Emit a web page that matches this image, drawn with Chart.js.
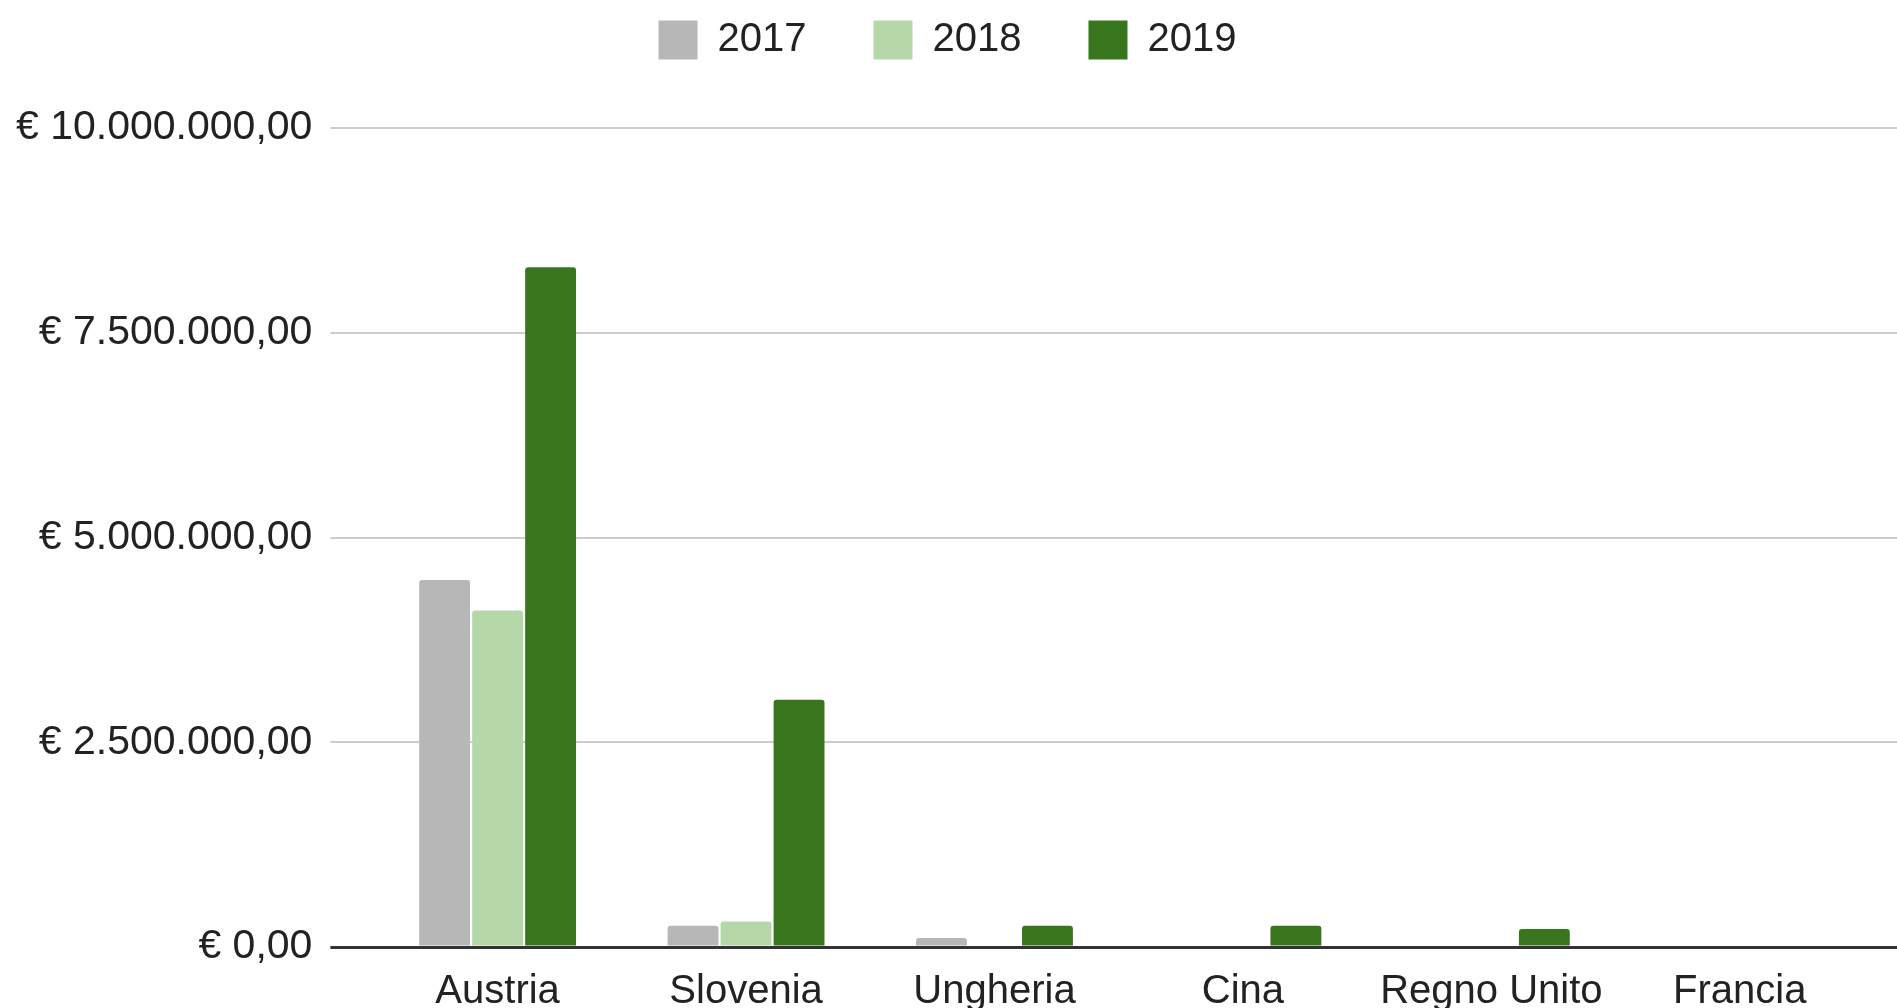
<!DOCTYPE html>
<html>
<head>
<meta charset="utf-8">
<script src="https://cdn.jsdelivr.net/npm/chart.js@4"></script>
<style>
  body { margin: 0; background: #fff; }
  #wrap { width: 1897px; height: 1008px; }
</style>
</head>
<body>
<div id="wrap"><canvas id="chart"></canvas></div>
<script>
// data
const countries = ['Austria', 'Slovenia', 'Ungheria', 'Cina', 'Regno Unito', 'Francia'];
const years = ['2017', '2018', '2019'];
const sales2017 = [4480000, 260000, 110000, 0, 0, 0];
const sales2018 = [4110000, 310000, 0, 0, 0, 0];
const sales2019 = [8300000, 3020000, 260000, 260000, 220000, 0];
const yTicks = [0, 2500000, 5000000, 7500000, 10000000];

const colors = ['#b7b7b7', '#b6d7a8', '#38761d'];
const fontFamily = "'Liberation Sans', Arial, sans-serif";

function formatEuro(v) {
    const parts = Math.round(v * 100) / 100;
    let [intPart, dec] = parts.toFixed(2).split('.');
    intPart = intPart.replace(/\B(?=(\d{3})+(?!\d))/g, '.');
    return '€ ' + intPart + ',' + dec;
}

function gridColor(ctx) {
    return ctx.tick && ctx.tick.value === 0 ? '#333333' : '#cccccc';
}
function gridWidth(ctx) {
    return ctx.tick && ctx.tick.value === 0 ? 3 : 2;
}

// push the plot down below the legend
const legendGap = {
    id: 'legendGap',
    beforeInit(chart) {
        const fit = chart.legend.fit;
        chart.legend.fit = function () {
            fit.call(this);
            this.height += 58;
        };
    }
};

const ctx = document.getElementById('chart').getContext('2d');
new Chart(ctx, {
    type: 'bar',
    data: {
        labels: countries,
        datasets: [
            { label: years[0], data: sales2017, backgroundColor: colors[0] },
            { label: years[1], data: sales2018, backgroundColor: colors[1] },
            { label: years[2], data: sales2019, backgroundColor: colors[2] }
        ]
    },
    options: {
        responsive: true,
        maintainAspectRatio: false,
        animation: false,
        layout: { padding: { top: -47, left: -2, right: 0, bottom: -21 } },
        datasets: {
            bar: {
                categoryPercentage: 0.64,
                barPercentage: 0.96,
                borderRadius: 3,
                borderSkipped: 'start'
            }
        },
        plugins: {
            tooltip: { enabled: false },
            legend: {
                position: 'top',
                labels: {
                    boxWidth: 39,
                    boxHeight: 39,
                    padding: 67,
                    color: '#222',
                    font: { family: fontFamily, size: 40 }
                }
            }
        },
        scales: {
            x: {
                z: 1,
                grid: { display: false },
                border: { display: true, color: '#333333', width: 3 },
                ticks: {
                    padding: 13,
                    color: '#222',
                    font: { family: fontFamily, size: 40 }
                }
            },
            y: {
                min: 0,
                max: 10000000,
                afterBuildTicks(scale) {
                    scale.ticks = yTicks.map(v => ({ value: v }));
                },
                border: { display: false },
                grid: {
                    color: gridColor,
                    lineWidth: gridWidth,
                    tickLength: 43
                },
                ticks: {
                    padding: 18,
                    color: '#222',
                    font: { family: fontFamily, size: 41 },
                    callback: v => formatEuro(v)
                }
            },
            yRight: {
                position: 'right',
                min: 0,
                max: 10000000,
                afterBuildTicks(scale) {
                    scale.ticks = yTicks.map(v => ({ value: v }));
                },
                border: { display: false },
                grid: {
                    drawOnChartArea: false,
                    color: gridColor,
                    lineWidth: gridWidth,
                    tickLength: 33
                },
                ticks: { display: false }
            }
        }
    },
    plugins: [legendGap]
});
</script>
</body>
</html>
